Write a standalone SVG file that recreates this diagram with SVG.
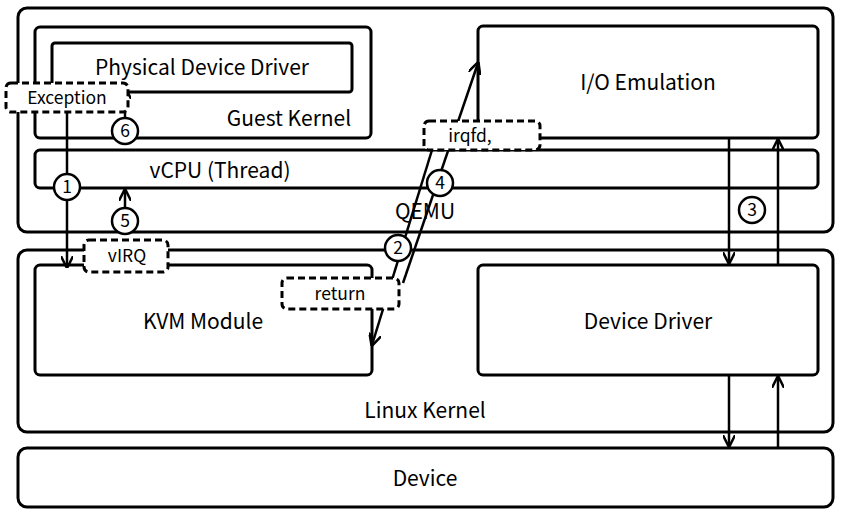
<svg xmlns="http://www.w3.org/2000/svg" width="843" height="519" viewBox="0 0 843 519">
<style>
.b{fill:#fff;stroke:#000;stroke-width:3}
.d{fill:#fff;stroke:#000;stroke-width:3;stroke-dasharray:7,4}
.t{font-family:"Noto Sans CJK KR","Liberation Sans",sans-serif;font-size:21px;text-anchor:middle;fill:#000}
.s{font-size:17.5px}
.c{fill:#fff;stroke:#000;stroke-width:2.5}
.l{stroke:#000;stroke-width:2.5;fill:none;marker-end:url(#a)}
</style>
<defs><marker id="a" viewBox="0 0 10 10" refX="9" refY="5" markerWidth="5" markerHeight="5" orient="auto"><path d="M0,0L10,5L0,10" fill="none" stroke="#000" stroke-width="2"/></marker></defs>
<rect width="843" height="519" fill="#fff"/>
<g id="qemu"><rect class="b" x="18" y="8" width="815" height="224" rx="9"/><text class="t" x="425" y="219">QEMU</text></g>
<g id="guest"><rect class="b" x="35" y="27" width="336" height="111" rx="5"/><text class="t" x="289" y="126">Guest Kernel</text></g>
<g id="pdd"><rect class="b" x="52" y="43" width="300" height="49" rx="3"/><text class="t" x="202" y="75">Physical Device Driver</text></g>
<g id="io"><rect class="b" x="478" y="26" width="340" height="112" rx="5"/><text class="t" x="648" y="90">I/O Emulation</text></g>
<g id="vcpu"><rect class="b" x="35" y="150" width="783" height="38" rx="5"/><text class="t" x="220" y="178">vCPU (Thread)</text></g>
<g id="linux"><rect class="b" x="18" y="250" width="815" height="182" rx="9"/><text class="t" x="425" y="418">Linux Kernel</text></g>
<g id="kvm"><rect class="b" x="35" y="265" width="337" height="110" rx="5"/><text class="t" x="203" y="329">KVM Module</text></g>
<g id="dd"><rect class="b" x="478" y="265" width="340" height="110" rx="5"/><text class="t" x="648" y="329">Device Driver</text></g>
<g id="device"><rect class="b" x="18" y="448" width="815" height="59" rx="9"/><text class="t" x="425" y="486">Device</text></g>
<g id="connectors">
<line class="l" x1="67" y1="112" x2="67" y2="267"/>
<line class="l" x1="125" y1="118" x2="125" y2="88"/>
<line class="l" x1="125" y1="234" x2="125" y2="190"/>
<line class="l" x1="432" y1="150" x2="372" y2="345"/>
<line class="l" x1="403" y1="283" x2="478" y2="63"/>
<line class="l" x1="729" y1="138" x2="729" y2="263"/>
<line class="l" x1="778" y1="265" x2="778" y2="140"/>
<line class="l" x1="729" y1="375" x2="729" y2="446"/>
<line class="l" x1="778" y1="447" x2="778" y2="377"/>
</g>
<g id="exception"><rect class="d" x="6" y="83" width="122" height="29" rx="5"/><text class="t s" x="67" y="104">Exception</text></g>
<g id="virq"><rect class="d" x="84" y="240" width="84" height="32" rx="5"/><text class="t s" x="127" y="262">vIRQ</text></g>
<g id="return"><rect class="d" x="282" y="278" width="117" height="31" rx="5"/><text class="t s" x="340" y="300">return</text></g>
<g id="irqfd"><rect class="d" x="424" y="121" width="116" height="29" rx="5"/><text class="t s" x="470" y="142">irqfd,</text></g>
<g id="steps">
<circle class="c" cx="67" cy="187" r="13"/><text class="t s" x="67" y="193">1</text>
<circle class="c" cx="398" cy="248" r="13"/><text class="t s" x="398" y="254">2</text>
<circle class="c" cx="752" cy="210" r="13"/><text class="t s" x="752" y="216">3</text>
<circle class="c" cx="440" cy="183" r="13"/><text class="t s" x="440" y="189">4</text>
<circle class="c" cx="125" cy="221" r="13"/><text class="t s" x="125" y="227">5</text>
<circle class="c" cx="125" cy="131" r="13"/><text class="t s" x="125" y="137">6</text>
</g>
</svg>
